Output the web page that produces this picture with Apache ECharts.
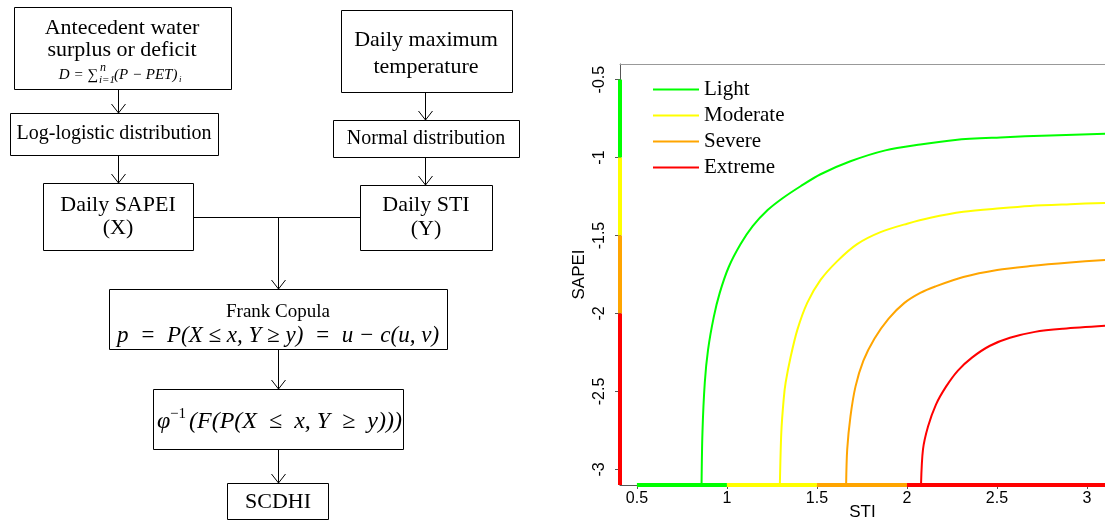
<!DOCTYPE html>
<html><head><meta charset="utf-8">
<script src="https://cdn.jsdelivr.net/npm/echarts@6/dist/echarts.min.js"></script>
<style>html,body{margin:0;padding:0;background:#fff}#c{width:1105px;height:522px}</style>
</head><body><div id="c"></div>
<script>
// ---------- data ----------
const levels = ['Light', 'Moderate', 'Severe', 'Extreme'];
const stiTicks = [0.5, 1, 1.5, 2, 2.5, 3];
const sapeiTicks = [-0.5, -1, -1.5, -2, -2.5, -3];
const stiRange = [0.406, 3.1];
const sapeiRange = [-3.1, -0.4];
const stiBounds = [0.5, 1, 1.5, 2, 3.1];
const sapeiBounds = [-0.5, -1, -1.5, -2, -3.1];
const lightCurve = [[0.859,-3.1],[0.864,-2.763],[0.877,-2.443],[0.895,-2.233],[0.927,-2.022],[0.960,-1.868],[1.010,-1.702],[1.076,-1.555],[1.143,-1.44],[1.226,-1.337],[1.309,-1.261],[1.409,-1.184],[1.52,-1.107],[1.686,-1.024],[1.88,-0.954],[2.074,-0.916],[2.268,-0.887],[2.518,-0.871],[2.795,-0.858],[3.1,-0.847]];
const moderateCurve = [[1.294,-3.1],[1.302,-2.763],[1.315,-2.552],[1.326,-2.444],[1.354,-2.278],[1.391,-2.105],[1.446,-1.932],[1.52,-1.785],[1.613,-1.664],[1.723,-1.555],[1.853,-1.478],[2.001,-1.424],[2.13,-1.386],[2.313,-1.348],[2.518,-1.325],[2.684,-1.31],[2.906,-1.299],[3.1,-1.291]];
const severeCurve = [[1.662,-3.1],[1.668,-2.872],[1.686,-2.661],[1.714,-2.469],[1.758,-2.303],[1.819,-2.162],[1.897,-2.034],[1.986,-1.932],[2.074,-1.868],[2.157,-1.827],[2.313,-1.766],[2.501,-1.721],[2.684,-1.696],[2.906,-1.673],[3.1,-1.657]];
const extremeCurve = [[2.078,-3.1],[2.089,-2.872],[2.117,-2.725],[2.161,-2.584],[2.217,-2.469],[2.283,-2.366],[2.361,-2.283],[2.461,-2.207],[2.572,-2.156],[2.711,-2.118],[2.867,-2.098],[3.1,-2.079]];
const curves = [lightCurve, moderateCurve, severeCurve, extremeCurve];

// flowchart texts
const sourceTexts = [['Antecedent water', 'surplus or deficit'], ['Daily maximum', 'temperature']];
const distTexts = ['Log-logistic distribution', 'Normal distribution'];
const indexTexts = [['Daily SAPEI', '(X)'], ['Daily STI', '(Y)']];
const copulaTitle = 'Frank Copula';
const copulaFormula = 'p\u2002=\u2002P(X \u2264 x, Y \u2265 y)\u2002=\u2002u \u2212 c(u, v)';
const inverseFormula = '(F(P(X\u2002\u2264\u2002x, Y\u2002\u2265\u2002y)))';
const finalText = 'SCDHI';

// ---------- styles ----------
const levelColors = ['#00ff00', '#ffff00', '#ffa500', '#ff0000'];
const SERIF = '"Liberation Serif", "Times New Roman", serif';
const SANS = '"Liberation Sans", Arial, sans-serif';

// ---------- flowchart graphics ----------
const g = [];
function box(x, y, w, h) {
  g.push({ type: 'rect', shape: { x: x + 0.5, y: y + 0.5, width: w, height: h },
    style: { fill: '#fff', stroke: '#000', lineWidth: 1 } });
}
function txt(t, x, y, size, opts) {
  opts = opts || {};
  g.push({ type: 'text', x: x, y: y, style: {
    text: t, font: (opts.italic ? 'italic ' : '') + size + 'px ' + (opts.family || SERIF),
    fill: '#000', textAlign: opts.align || 'center', align: opts.align || 'center',
    textVerticalAlign: 'middle', verticalAlign: 'middle' } });
}
function arrow(x, y1, y2) {
  g.push({ type: 'polyline', shape: { points: [[x + 0.5, y1], [x + 0.5, y2]] }, style: { stroke: '#000', lineWidth: 1, fill: null } });
  g.push({ type: 'polyline', shape: { points: [[x - 6.5, y2 - 9], [x + 0.5, y2], [x + 7.5, y2 - 9]] }, style: { stroke: '#000', lineWidth: 1, fill: null } });
}
// left column
box(14, 7, 217, 82);
txt(sourceTexts[0][0], 122, 28, 22);
txt(sourceTexts[0][1], 122, 50, 22);
txt('D = \u2211', 98, 75, 15, { italic: true, align: 'right' });
txt('n', 100, 68, 12, { italic: true, align: 'left' });
txt('i=1', 99, 80, 11, { italic: true, align: 'left' });
txt('(P \u2212 PET)', 114, 75, 15, { italic: true, align: 'left' });
txt('i', 179, 80, 9, { italic: true, align: 'left' });
arrow(118, 89, 113);
box(10, 113, 208, 42);
txt(distTexts[0], 114, 134, 20);
arrow(118, 155, 183);
box(43, 183, 150, 67);
txt(indexTexts[0][0], 118, 205, 22);
txt(indexTexts[0][1], 118, 228, 22);
// right column
box(341, 10, 171, 82);
txt(sourceTexts[1][0], 426, 40, 22);
txt(sourceTexts[1][1], 426, 67, 22);
arrow(425, 92, 120);
box(333, 120, 186, 37);
txt(distTexts[1], 426, 139, 20);
arrow(425, 157, 185);
box(360, 185, 132, 65);
txt(indexTexts[1][0], 426, 205, 22);
txt(indexTexts[1][1], 426, 229, 22);
// connector
g.push({ type: 'polyline', shape: { points: [[193, 217.5], [360, 217.5]] }, style: { stroke: '#000', lineWidth: 1, fill: null } });
arrow(278, 217, 289);
box(109, 289, 338, 60);
txt(copulaTitle, 278, 312, 19);
txt(copulaFormula, 278, 336, 23, { italic: true });
arrow(278, 349, 389);
box(153, 389, 250, 60);
txt('\u03C6', 157, 422, 24, { italic: true, align: 'left' });
txt('\u22121', 170, 414, 15, { align: 'left' });
txt(inverseFormula, 189, 422, 24, { italic: true, align: 'left' });
arrow(278, 449, 483);
box(227, 483, 101, 36);
txt(finalText, 278, 502, 22);

// ---------- chart ----------
const series = [];
levels.forEach((name, i) => {
  series.push({ name: name, type: 'line', data: curves[i], showSymbol: false, smooth: 0.3,
    lineStyle: { color: levelColors[i], width: 2 }, itemStyle: { color: levelColors[i] }, z: 3 });
  series.push({ name: name + '-y', type: 'line', showSymbol: false, clip: false, silent: true,
    data: [[stiRange[0], sapeiBounds[i]], [stiRange[0], sapeiBounds[i + 1]]],
    lineStyle: { color: levelColors[i], width: 4 }, z: 4 });
  series.push({ name: name + '-x', type: 'line', showSymbol: false, clip: false, silent: true,
    data: [[stiBounds[i], sapeiRange[0]], [stiBounds[i + 1], sapeiRange[0]]],
    lineStyle: { color: levelColors[i], width: 4 }, z: 4 });
});

const chart = echarts.init(document.getElementById('c'), null, { renderer: 'canvas' });
chart.setOption({
  animation: false,
  backgroundColor: '#fff',
  graphic: g,
  grid: { left: 620, top: 64, right: 0, bottom: 37, containLabel: false, outerBoundsMode: 'none' },
  legend: {
    data: levels, orient: 'vertical', left: 653, top: 79, padding: 0,
    icon: 'rect', itemWidth: 46, itemHeight: 2, itemGap: 5,
    textStyle: { fontFamily: SERIF, fontSize: 21, lineHeight: 21, color: '#000' }
  },
  xAxis: [{
    type: 'value', min: stiRange[0], max: stiRange[1],
    name: 'STI', nameLocation: 'middle', nameGap: 19, nameMoveOverlap: false,
    nameTextStyle: { fontFamily: SANS, fontSize: 17, color: '#000' },
    axisLine: { lineStyle: { color: '#555', width: 1 } },
    axisTick: { show: true, length: 4, customValues: stiTicks, lineStyle: { color: '#555' } },
    axisLabel: { customValues: stiTicks, fontFamily: SANS, fontSize: 16, color: '#000', margin: 6 },
    splitLine: { show: false }
  }, {
    type: 'value', position: 'top', min: stiRange[0], max: stiRange[1],
    axisLine: { show: true, lineStyle: { color: '#999', width: 1 } },
    axisTick: { show: false }, axisLabel: { show: false }, splitLine: { show: false }
  }],
  yAxis: {
    type: 'value', min: sapeiRange[0], max: sapeiRange[1],
    name: 'SAPEI', nameLocation: 'middle', nameGap: 32,
    nameTextStyle: { fontFamily: SANS, fontSize: 17, color: '#000' },
    axisLine: { show: true, lineStyle: { color: '#555', width: 1 } },
    axisTick: { show: true, length: 5, customValues: sapeiTicks, lineStyle: { color: '#555' } },
    axisLabel: { customValues: sapeiTicks, rotate: 90, fontFamily: SANS, fontSize: 16, color: '#000', margin: 12 },
    splitLine: { show: false }
  },
  series: series
});
</script>
</body></html>
